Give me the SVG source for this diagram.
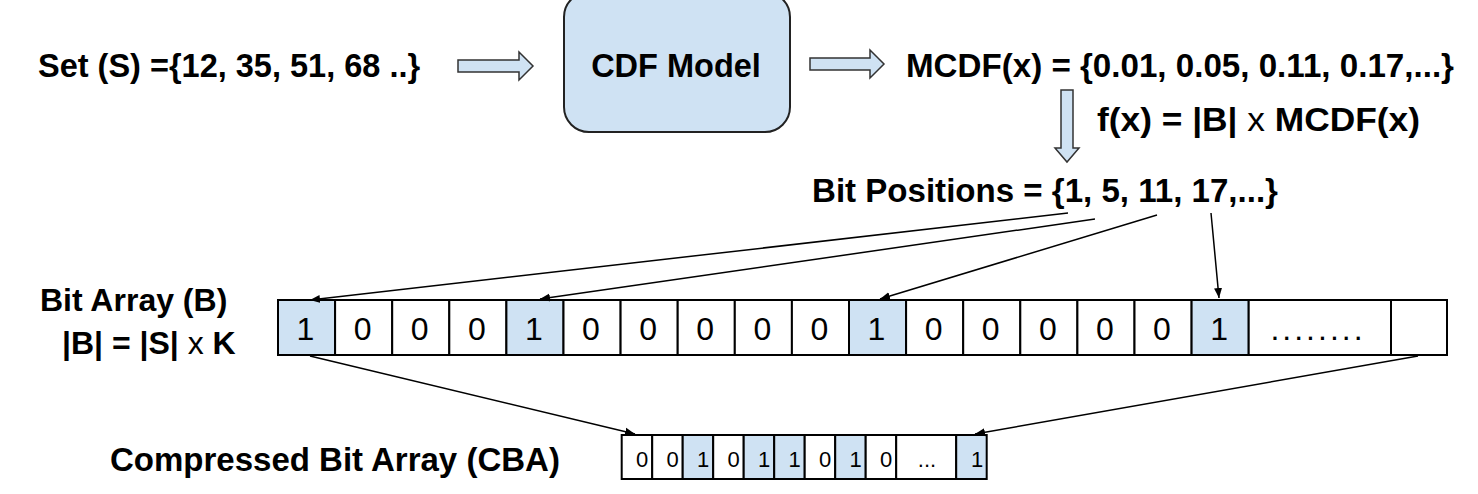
<svg xmlns="http://www.w3.org/2000/svg" width="1478" height="494" viewBox="0 0 1478 494">
<style>
text{font-family:"Liberation Sans",Arial,sans-serif;fill:#000}
.b{font-weight:bold}
.n{font-weight:normal}
.cell{fill:#fff;stroke:#000;stroke-width:2}
.on{fill:#cfe2f3}
.bt{font-size:32px;text-anchor:middle}
.ct{font-size:22px;text-anchor:middle}
.blk{fill:#cfe2f3;stroke:#333;stroke-width:1.5}
.con{stroke:#000;stroke-width:1.5;fill:none;marker-end:url(#ah)}
</style>
<defs>
<marker id="ah" viewBox="0 0 10 10" refX="10" refY="5" markerWidth="10" markerHeight="10" markerUnits="userSpaceOnUse" orient="auto">
<path d="M0,1 L10,5 L0,9 z" fill="#000"/>
</marker>
</defs>

<g id="set">
<text class="b" x="38" y="77" font-size="32.5">Set (S) ={12, 35, 51, 68 ..}</text>
</g>

<g id="cdf-model">
<rect x="564" y="-8" width="226" height="140" rx="25" ry="25" fill="#cfe2f3" stroke="#222" stroke-width="2"/>
<text class="b" x="676" y="77" font-size="32.5" text-anchor="middle">CDF Model</text>
</g>

<g id="mcdf">
<text class="b" x="906" y="77" font-size="33" textLength="548" lengthAdjust="spacingAndGlyphs">MCDF(x) = {0.01, 0.05, 0.11, 0.17,...}</text>
</g>

<g id="fx">
<text class="b" x="1097" y="131" font-size="34" textLength="323" lengthAdjust="spacingAndGlyphs">f(x) = |B| <tspan class="n">x</tspan> MCDF(x)</text>
</g>

<g id="bit-positions">
<text class="b" x="812" y="202" font-size="34" textLength="466" lengthAdjust="spacingAndGlyphs">Bit Positions = {1, 5, 11, 17,...}</text>
</g>

<g id="bit-array-label">
<text class="b" x="40" y="311" font-size="32">Bit Array (B)</text>
<text class="b" x="62" y="354" font-size="32">|B| = |S| <tspan class="n">x</tspan> K</text>
</g>

<g id="cba-label">
<text class="b" x="110" y="471" font-size="33">Compressed Bit Array (CBA)</text>
</g>

<g id="bit-array">
<rect class="cell on" x="278" y="300" width="57.1" height="55"/>
<rect class="cell" x="335.1" y="300" width="57.1" height="55"/>
<rect class="cell" x="392.2" y="300" width="57.1" height="55"/>
<rect class="cell" x="449.3" y="300" width="57.1" height="55"/>
<rect class="cell on" x="506.4" y="300" width="57.1" height="55"/>
<rect class="cell" x="563.5" y="300" width="57.1" height="55"/>
<rect class="cell" x="620.6" y="300" width="57.1" height="55"/>
<rect class="cell" x="677.7" y="300" width="57.1" height="55"/>
<rect class="cell" x="734.8" y="300" width="57.1" height="55"/>
<rect class="cell" x="791.9" y="300" width="57.1" height="55"/>
<rect class="cell on" x="849" y="300" width="57.1" height="55"/>
<rect class="cell" x="906.1" y="300" width="57.1" height="55"/>
<rect class="cell" x="963.2" y="300" width="57.1" height="55"/>
<rect class="cell" x="1020.3" y="300" width="57.1" height="55"/>
<rect class="cell" x="1077.4" y="300" width="57.1" height="55"/>
<rect class="cell" x="1134.5" y="300" width="57.1" height="55"/>
<rect class="cell on" x="1191.6" y="300" width="57.1" height="55"/>
<rect class="cell" x="1248.7" y="300" width="142.3" height="55"/>
<rect class="cell" x="1391" y="300" width="56" height="55"/>
<text class="bt" x="305.5" y="340">1</text>
<text class="bt" x="362.6" y="340">0</text>
<text class="bt" x="419.7" y="340">0</text>
<text class="bt" x="476.8" y="340">0</text>
<text class="bt" x="533.9" y="340">1</text>
<text class="bt" x="591" y="340">0</text>
<text class="bt" x="648.1" y="340">0</text>
<text class="bt" x="705.2" y="340">0</text>
<text class="bt" x="762.3" y="340">0</text>
<text class="bt" x="819.4" y="340">0</text>
<text class="bt" x="876.5" y="340">1</text>
<text class="bt" x="933.6" y="340">0</text>
<text class="bt" x="990.7" y="340">0</text>
<text class="bt" x="1047.8" y="340">0</text>
<text class="bt" x="1104.9" y="340">0</text>
<text class="bt" x="1162" y="340">0</text>
<text class="bt" x="1219.1" y="340">1</text>
<text class="bt" x="1318" y="340" letter-spacing="3">........</text>
</g>

<g id="compressed-array">
<rect class="cell" x="621.7" y="435" width="30.5" height="44"/>
<rect class="cell" x="652.2" y="435" width="30.5" height="44"/>
<rect class="cell on" x="682.7" y="435" width="30.5" height="44"/>
<rect class="cell" x="713.2" y="435" width="30.5" height="44"/>
<rect class="cell on" x="743.7" y="435" width="30.5" height="44"/>
<rect class="cell on" x="774.2" y="435" width="30.5" height="44"/>
<rect class="cell" x="804.7" y="435" width="30.5" height="44"/>
<rect class="cell on" x="835.2" y="435" width="30.5" height="44"/>
<rect class="cell" x="865.7" y="435" width="30.5" height="44"/>
<rect class="cell" x="896.2" y="435" width="60" height="44"/>
<rect class="cell on" x="956.2" y="435" width="30.5" height="44"/>
<text class="ct" x="642" y="467">0</text>
<text class="ct" x="672.5" y="467">0</text>
<text class="ct" x="703" y="467">1</text>
<text class="ct" x="733.5" y="467">0</text>
<text class="ct" x="764" y="467">1</text>
<text class="ct" x="794.5" y="467">1</text>
<text class="ct" x="825" y="467">0</text>
<text class="ct" x="855.5" y="467">1</text>
<text class="ct" x="886" y="467">0</text>
<text class="ct" x="927" y="467">...</text>
<text class="ct" x="977" y="467">1</text>
</g>

<g id="connectors">
<path class="blk" d="M458,60 L519,60 L519,52 L533,66 L519,80 L519,72 L458,72 Z"/>
<path class="blk" d="M810,58 L870,58 L870,50 L884,64 L870,78 L870,70 L810,70 Z"/>
<path class="blk" d="M1061,90 L1073,90 L1073,148 L1079,148 L1067,162 L1055,148 L1061,148 Z"/>
<line class="con" x1="1068" y1="213" x2="310" y2="300"/>
<line class="con" x1="1095" y1="219" x2="540" y2="299"/>
<line class="con" x1="1157" y1="215" x2="880" y2="299"/>
<line class="con" x1="1211" y1="213" x2="1219" y2="298"/>
<line class="con" x1="310" y1="356" x2="635" y2="434"/>
<line class="con" x1="1418" y1="356" x2="975" y2="434"/>
</g>
</svg>
